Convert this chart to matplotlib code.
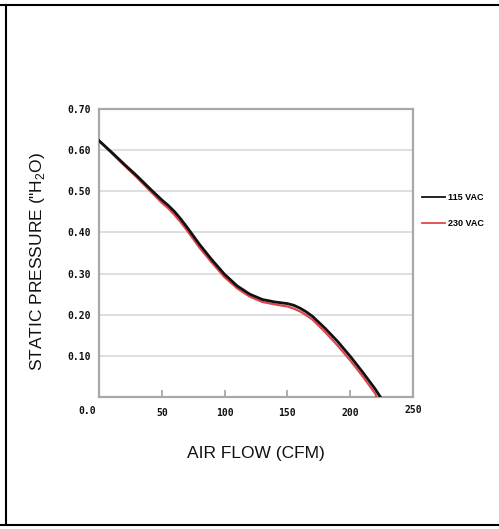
import matplotlib
matplotlib.use("Agg")
import matplotlib.pyplot as plt
from matplotlib.lines import Line2D
import matplotlib.transforms as mtransforms

plt.rcParams['font.family'] = ['Liberation Sans', 'DejaVu Sans']
plt.rcParams['mathtext.fontset'] = 'custom'
plt.rcParams['mathtext.rm'] = 'Liberation Sans'

# Data
flow_115 = [0, 10, 20, 30, 40, 50, 55, 60, 65, 70, 80, 90, 100, 110, 120, 130, 140, 150,
            155, 160, 165, 170, 180, 190, 200, 210, 220, 224]
pres_115 = [0.623, 0.595, 0.566, 0.538, 0.508, 0.479, 0.466, 0.451, 0.433, 0.413, 0.371, 0.333,
            0.298, 0.270, 0.250, 0.237, 0.231, 0.227, 0.223, 0.216, 0.207, 0.196, 0.167, 0.135,
            0.099, 0.060, 0.019, 0.0]
flow_230 = [0, 10, 20, 30, 40, 50, 55, 60, 65, 70, 80, 90, 100, 110, 120, 130, 140, 150,
            155, 160, 165, 170, 180, 190, 200, 210, 220, 221]
pres_230 = [0.623, 0.593, 0.563, 0.534, 0.503, 0.472, 0.459, 0.443, 0.425, 0.405, 0.363, 0.326,
            0.291, 0.264, 0.244, 0.231, 0.225, 0.220, 0.215, 0.208, 0.199, 0.188, 0.158, 0.125,
            0.089, 0.050, 0.008, 0.0]
series_labels = ["115 VAC", "230 VAC"]
xticks = [0, 50, 100, 150, 200, 250]
xtick_labels = ["0.0", "50", "100", "150", "200", "250"]
yticks = [0.10, 0.20, 0.30, 0.40, 0.50, 0.60, 0.70]
ytick_labels = ["0.10", "0.20", "0.30", "0.40", "0.50", "0.60", "0.70"]

fig = plt.figure(figsize=(4.99, 5.29), dpi=100)
fig.patch.set_facecolor('white')
ax = fig.add_axes([99/499, 1-397/529, 314/499, 288/529])

ax.set_xlim(0, 250)
ax.set_ylim(0, 0.70)

for y in yticks[:-1]:
    ax.axhline(y, color='#d9d9d9', lw=1.2, zorder=1)

l2, = ax.plot(flow_230, pres_230, color='#e0474c', lw=1.6, zorder=3, label=series_labels[1],
              solid_joinstyle='round')
l1, = ax.plot(flow_115, pres_115, color='#111111', lw=2.0, zorder=4, label=series_labels[0],
              solid_joinstyle='round')

for s in ax.spines.values():
    s.set_color('#a9a9a9')
    s.set_linewidth(1.6)

tickfont = dict(family='DejaVu Sans Mono', weight='bold', size=7)
ax.set_xticks(xticks)
ax.set_xticklabels(xtick_labels, **tickfont, color='#111111')
ax.tick_params(axis='x', direction='in', length=5, width=1.2, color='#a0a0a0', pad=8)
ax.set_yticks(yticks)
ax.set_yticklabels(ytick_labels, **tickfont, color='#111111')
ax.tick_params(axis='y', length=0, pad=6)

lbls = ax.get_xticklabels()
lbls[0].set_transform(lbls[0].get_transform() + mtransforms.ScaledTranslation(-12/100, 2/100, fig.dpi_scale_trans))
lbls[-1].set_transform(lbls[-1].get_transform() + mtransforms.ScaledTranslation(0, 3/100, fig.dpi_scale_trans))

ax.set_xlabel('AIR FLOW (CFM)', fontsize=12.5, labelpad=20, color='#111111')
ax.set_ylabel('STATIC PRESSURE ("H$_2$O)', fontsize=12.5, color='#111111')
ax.yaxis.set_label_coords(-0.165, 0.47)

leg = ax.legend([l1, l2], series_labels, loc='upper left',
                bbox_to_anchor=(422/499, 1-193/529), bbox_transform=fig.transFigure,
                frameon=False, borderpad=0, borderaxespad=0, handlelength=2.5,
                handletextpad=0.4, labelspacing=1.9,
                prop=dict(family='Liberation Sans', weight='bold', size=6.5))
for h in leg.get_lines():
    h.set_linewidth(1.3)

# outer frame
fig.add_artist(Line2D([6/499, 6/499], [1-5/529, 1-525/529], color='black', lw=1.5, transform=fig.transFigure))
fig.add_artist(Line2D([0.0, 1.0], [1-5/529, 1-5/529], color='black', lw=1.5, transform=fig.transFigure))
fig.add_artist(Line2D([0.0, 1.0], [1-525/529, 1-525/529], color='black', lw=1.5, transform=fig.transFigure))

fig.savefig('out.png', dpi=100, facecolor='white')
